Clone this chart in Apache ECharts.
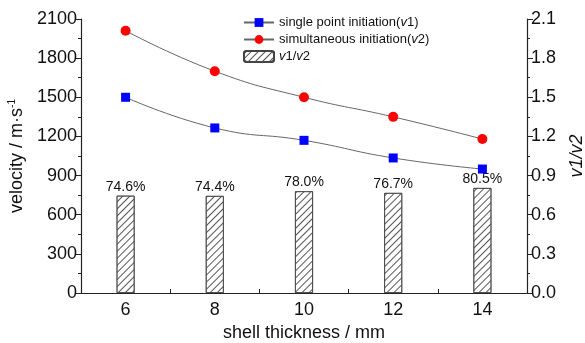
<!DOCTYPE html>
<html>
<head>
<meta charset="utf-8">
<script src="https://cdn.jsdelivr.net/npm/echarts@6/dist/echarts.min.js"></script>
<style>
  html, body { margin: 0; padding: 0; background: #fff; }
  #chart { width: 585px; height: 343px; }
</style>
</head>
<body>
<div id="chart"></div>
<script>
const thickness = ['6', '8', '10', '12', '14']
const v1 = [1500, 1265, 1170, 1035, 950]
const v2 = [2010, 1700, 1500, 1350, 1180]
const ratio = [0.746, 0.744, 0.780, 0.767, 0.805]

const font = 'Liberation Sans, Arial, sans-serif'
const axisColor = '#222'

const chart = echarts.init(document.getElementById('chart'))
chart.setOption({
  animation: false,
  textStyle: { fontFamily: font },
  grid: { left: 81, right: 58, top: 19, bottom: 50, outerBoundsMode: 'none', containLabel: false },
  legend: {
    orient: 'vertical',
    left: 238,
    top: 11,
    itemWidth: 30,
    itemHeight: 11,
    itemGap: 4,
    data: [
      { name: 'single point initiation(v1)' },
      { name: 'simultaneous initiation(v2)' },
      { name: 'v1/v2' }
    ],
    formatter: function (name) {
      return name.replace(/v([12])/g, '{i|v}$1')
    },
    textStyle: {
      fontSize: 13, color: '#111', fontFamily: font,
      rich: { i: { fontStyle: 'italic', fontSize: 13 } }
    }
  },
  xAxis: {
    type: 'category',
    data: thickness,
    name: 'shell thickness / mm',
    nameLocation: 'middle',
    nameGap: 31,
    nameTextStyle: { fontSize: 18, color: '#111' },
    axisLine: { lineStyle: { color: axisColor, width: 1.2 } },
    axisTick: { show: true, length: 4, inside: true, lineStyle: { color: axisColor } },
    axisLabel: { fontSize: 18, color: '#111', margin: 8 }
  },
  yAxis: [{
    type: 'value',
    min: 0,
    max: 2100,
    interval: 300,
    name: 'velocity / m·s{sup|-1}',
    nameLocation: 'middle',
    nameGap: 50,
    nameTextStyle: {
      fontSize: 18, color: '#111',
      rich: { sup: { fontSize: 10, verticalAlign: 'top', padding: [0, 0, 10, 0] } }
    },
    axisLine: { show: true, lineStyle: { color: axisColor, width: 1.2 } },
    axisTick: { show: true, length: 6, lineStyle: { color: axisColor } },
    minorTick: { show: true, splitNumber: 2, length: 3, lineStyle: { color: axisColor } },
    splitLine: { show: false },
    axisLabel: {
      fontSize: 18, color: '#111', margin: 4,
      formatter: function (v) { return String(v) }
    }
  }, {
    type: 'value',
    min: 0,
    max: 2.1,
    interval: 0.3,
    name: 'v1/v2',
    nameLocation: 'middle',
    nameGap: 41,
    nameRotate: 90,
    nameTextStyle: { fontSize: 18, color: '#111', fontStyle: 'italic' },
    axisLine: { show: true, lineStyle: { color: axisColor, width: 1.2 } },
    axisTick: { show: true, length: 6, lineStyle: { color: axisColor } },
    minorTick: { show: true, splitNumber: 2, length: 3, lineStyle: { color: axisColor } },
    splitLine: { show: false },
    axisLabel: {
      fontSize: 18, color: '#111', margin: 4,
      formatter: function (v) { return v.toFixed(1) }
    }
  }],
  series: [{
    name: 'v1/v2',
    type: 'bar',
    yAxisIndex: 1,
    data: ratio,
    barWidth: 18,
    itemStyle: {
      color: '#fff',
      borderColor: '#444',
      borderWidth: 0.8,
      decal: {
        symbol: 'rect',
        symbolSize: 1,
        dashArrayX: [1, 0],
        dashArrayY: [0.6, 3.4],
        rotation: -Math.PI / 4,
        color: '#555'
      }
    },
    label: {
      show: true,
      position: 'top',
      distance: 2,
      fontSize: 14,
      color: '#111',
      formatter: function (p) { return (p.value * 100).toFixed(1) + '%' }
    }
  }, {
    name: 'single point initiation(v1)',
    type: 'line',
    data: v1,
    smooth: true,
    symbol: 'rect',
    symbolSize: 9,
    itemStyle: { color: '#0000ff' },
    lineStyle: { color: '#666', width: 1 }
  }, {
    name: 'simultaneous initiation(v2)',
    type: 'line',
    data: v2,
    smooth: true,
    symbol: 'circle',
    symbolSize: 10,
    itemStyle: { color: '#ff0000' },
    lineStyle: { color: '#666', width: 1 }
  }]
})
</script>
</body>
</html>
